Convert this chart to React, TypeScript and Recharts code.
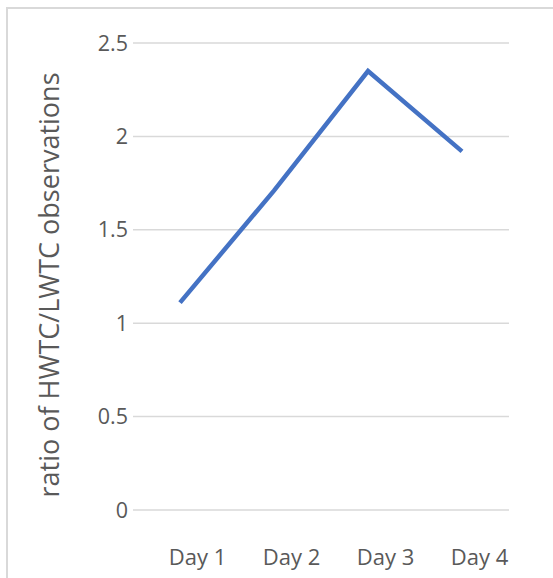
import React from "react";
import { LineChart, Line, XAxis, YAxis, CartesianGrid } from "recharts";

const days = ["Day 1", "Day 2", "Day 3", "Day 4"];
const ratios = [1.11, 1.71, 2.35, 1.92];
const yTicks = [0, 0.5, 1, 1.5, 2, 2.5];
const yTitle = "ratio of HWTC/LWTC observations";

const data = days.map((d, i) => ({ day: d, ratio: ratios[i] }));

const FONT = "'Open Sans', 'Noto Sans', sans-serif";
const TEXT = "#595959";

const XTick = (props: any) => {
  const { x, y, payload } = props;
  return (
    <text x={x + 17.5} y={y} dy="0.71em" textAnchor="middle" fill={TEXT} fontFamily={FONT} fontSize={22}>
      {payload.value}
    </text>
  );
};

const YTick = (props: any) => {
  const { x, y, payload } = props;
  return (
    <text x={x + 3} y={y} dy="0.355em" textAnchor="end" fill={TEXT} fontFamily={FONT} fontSize={21.5}>
      {payload.value}
    </text>
  );
};

export default function App() {
  return (
    <div style={{ position: "absolute", left: 0, top: 0, width: 553, height: 578, background: "#fff", overflow: "hidden" }}>
      <div
        style={{
          position: "absolute",
          left: 6,
          top: 7,
          width: 600,
          height: 600,
          borderLeft: "2px solid #d9d9d9",
          borderTop: "2px solid #d9d9d9",
          boxSizing: "border-box",
        }}
      />
      <div style={{ position: "absolute", left: 0, top: 0 }}>
        <LineChart width={553} height={578} data={data} margin={{ top: 43, right: 44, bottom: 0, left: 0 }}>
          <CartesianGrid vertical={false} stroke="#d9d9d9" strokeWidth={1.5} />
          <XAxis
            dataKey="day"
            axisLine={false}
            tickLine={false}
            height={68}
            padding={{ left: 47, right: 47 }}
            tickMargin={33}
            tick={<XTick />}
            interval={0}
          />
          <YAxis
            width={133}
            domain={[0, 2.5]}
            ticks={yTicks}
            axisLine={false}
            tickLine={false}
            tick={<YTick />}
            label={{
              content: () => (
                <text
                  x={59}
                  y={285}
                  transform="rotate(-90 59 285)"
                  textAnchor="middle"
                  fill={TEXT}
                  fontFamily={FONT}
                  fontSize={27}
                >
                  {yTitle}
                </text>
              ),
            }}
          />
          <Line
            type="linear"
            dataKey="ratio"
            stroke="#4472C4"
            strokeWidth={4.5}
            dot={false}
            activeDot={false}
            isAnimationActive={false}
          />
        </LineChart>
      </div>
    </div>
  );
}
